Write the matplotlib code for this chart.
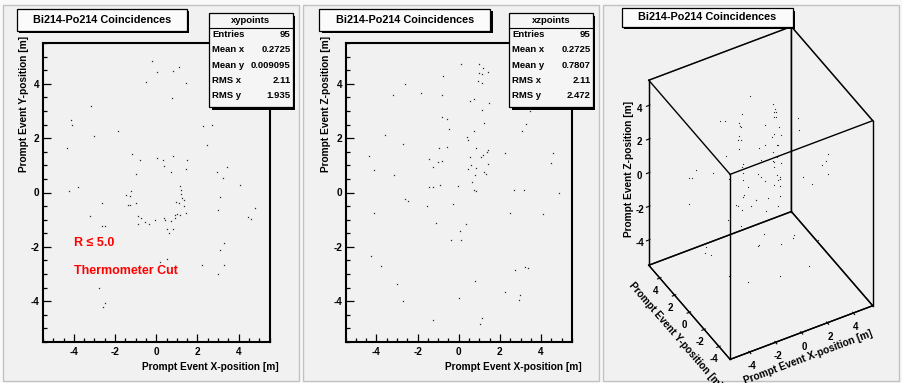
import itertools
import numpy as np
import matplotlib
matplotlib.use("Agg")
import matplotlib.pyplot as plt
from matplotlib.patches import Rectangle
from matplotlib.ticker import MultipleLocator

# ---------------------------------------------------------------------------
# data
# ---------------------------------------------------------------------------

xy_x = [-0.19, 0.03, 0.81, 1.10, -0.52, 1.46, 0.76, -3.19, -4.14, -4.09,
        -1.84, -3.01, 2.25, 2.70, -4.35, 2.48, -1.16, -0.77, 0.03, 0.35,
        0.81, 1.48, 0.40, 1.43, 0.71, -0.98, 3.44, 2.96, 3.25, 4.06,
        1.13, 1.19, -3.78, -4.22, -1.22, -1.48, -1.29, 1.22, 1.27, 1.35,
        3.11, -2.64, -0.98, -1.39, -1.26, 0.97, 1.10, 1.35, 3.00, 4.80,
        -3.22, -0.88, -0.74, -0.88, -0.53, -0.34, -0.05, 0.40, 0.43, 0.71,
        0.93, 0.90, 1.00, 1.13, 1.45, 4.44, 4.60, -2.64, -2.51, 0.52,
        0.81, 0.64, 3.30, 3.11, 0.16, 0.52, 2.24, 3.29, 3.01, -2.77,
        -2.48, -2.59]
xy_y = [4.84, 4.44, 4.46, 4.61, 4.06, 4.04, 3.49, 3.20, 2.66, 2.49,
        2.26, 2.08, 2.45, 2.48, 1.64, 1.74, 1.41, 1.21, 1.26, 1.21,
        1.36, 1.19, 0.96, 0.86, 0.74, 0.69, 0.93, 0.77, 0.53, 0.27,
        0.25, 0.10, 0.20, 0.06, 0.06, -0.10, -0.13, -0.07, -0.19, -0.27,
        -0.17, -0.37, -0.39, -0.47, -0.47, -0.35, -0.39, -0.51, -0.65, -0.56,
        -0.87, -0.88, -0.92, -1.15, -1.08, -1.15, -1.03, -0.93, -1.03, -1.04,
        -0.83, -0.93, -0.78, -0.83, -0.76, -0.90, -0.98, -1.22, -1.22, -1.35,
        -1.35, -1.49, -1.86, -2.11, -2.55, -2.45, -2.65, -2.67, -3.00, -3.50,
        -4.08, -4.23]

xz_x = [0.10, 0.97, 1.18, 1.44, 0.98, 1.15, -0.76, 0.92, 1.15, -2.61,
        -3.21, -1.84, -0.82, 0.73, 0.53, 1.47, 1.15, 3.44, -0.82, -0.56,
        1.21, 3.26, -0.47, 0.73, 3.05, -3.60, 0.40, 0.47, -2.73, -0.95,
        -0.56, 0.84, 1.40, 1.37, 2.27, 4.60, -4.37, 1.06, 0.53, 1.16,
        -1.45, -1.00, -0.79, 4.50, 0.60, 1.44, -1.27, 0.44, 0.84, -4.11,
        1.21, 1.34, 0.79, -3.15, 0.65, -0.90, -1.44, -1.24, -0.05, 0.73,
        0.85, 2.69, 3.15, 4.85, -2.60, -2.47, -1.52, -0.27, -4.11, 2.47,
        4.08, -1.11, 0.34, 0.05, -0.37, 0.11, -4.27, -3.76, 2.71, 3.21,
        3.34, 0.79, -3.00, 2.24, 2.98, 2.95, 0.00, -2.69, -1.27, 1.11,
        1.02]
xz_z = [4.72, 4.73, 4.57, 4.44, 4.41, 4.35, 4.30, 4.09, 4.04, 4.01,
        3.58, 3.65, 3.57, 3.43, 3.36, 3.31, 3.05, 3.01, 2.78, 2.70,
        2.55, 2.51, 2.34, 2.25, 2.28, 2.11, 2.06, 1.94, 1.78, 1.65,
        1.67, 1.62, 1.57, 1.50, 1.45, 1.46, 1.34, 1.32, 1.30, 1.37,
        1.23, 1.13, 1.15, 1.08, 1.00, 1.04, 0.94, 0.85, 0.89, 0.81,
        0.74, 0.67, 0.66, 0.64, 0.40, 0.27, 0.20, 0.20, 0.25, 0.11,
        0.07, 0.11, 0.11, -0.02, -0.24, -0.32, -0.51, -0.43, -0.76, -0.76,
        -0.80, -1.13, -1.16, -1.43, -1.75, -1.74, -2.34, -2.71, -2.85, -2.74,
        -2.79, -3.26, -3.38, -3.65, -3.77, -3.94, -3.88, -3.99, -4.69, -4.61,
        -4.84]

title = "Bi214-Po214 Coincidences"
stats_names = ["Entries", "Mean x", "Mean y", "RMS x", "RMS y"]
stats_xy = ["95", "0.2725", "0.009095", "2.11", "1.935"]
stats_xz = ["95", "0.2725", "0.7807", "2.11", "2.472"]
ticks = [-4, -2, 0, 2, 4]
lim = (-5.5, 5.5)

# ---------------------------------------------------------------------------
# helpers (pixel coords, origin top-left)
# ---------------------------------------------------------------------------

W, H = 902, 383
plt.rcParams["font.family"] = ["Liberation Sans", "DejaVu Sans"]
plt.rcParams["font.weight"] = "bold"
plt.rcParams["axes.labelweight"] = "bold"
plt.rcParams["axes.unicode_minus"] = False

fig = plt.figure(figsize=(W / 100, H / 100), dpi=100, facecolor="#f9f9f9")


def fx(px):
    return px / W


def fy(py):
    return 1 - py / H


def box(x0, y0, x1, y1, fc, shadow=2.5, z=5):
    fig.add_artist(Rectangle((fx(x0 + shadow), fy(y1 + shadow)),
                             (x1 - x0) / W, (y1 - y0) / H,
                             transform=fig.transFigure, fc="black",
                             ec="none", zorder=z))
    fig.add_artist(Rectangle((fx(x0), fy(y1)), (x1 - x0) / W, (y1 - y0) / H,
                             transform=fig.transFigure, fc=fc, ec="black",
                             lw=0.9, zorder=z + 0.1))


def title_box(x0, y0, x1, y1):
    box(x0, y0, x1, y1, "#fbfbfb")
    fig.text(fx((x0 + x1) / 2), fy((y0 + y1) / 2), title, ha="center",
             va="center", fontsize=7.8, zorder=6)


def stats_box(x0, name, values):
    x1, y0, y1 = x0 + 83.5, 13.3, 107.3
    box(x0, y0, x1, y1, "#f5f5f5")
    fig.text(fx((x0 + x1) / 2), fy(20.7), name, ha="center", va="center",
             fontsize=6.8, zorder=6)
    fig.add_artist(plt.Line2D([fx(x0), fx(x1)], [fy(28), fy(28)],
                              transform=fig.transFigure, color="black",
                              lw=0.8, zorder=6))
    for i, (lab, val) in enumerate(zip(stats_names, values)):
        yy = fy(34.7 + i * 15.25)
        fig.text(fx(x0 + 3), yy, lab, ha="left", va="center",
                 fontsize=6.8, zorder=6)
        fig.text(fx(x1 - 2), yy, val, ha="right", va="center",
                 fontsize=6.8, zorder=6)


# pads
for px0 in (3, 303, 603):
    fig.add_artist(Rectangle((fx(px0), fy(381)), 296 / W, 376 / H,
                             transform=fig.transFigure, fc="#f1f1f1",
                             ec="#c2c2c2", lw=1.0, zorder=-1))


def scatter_panel(left_px, xs, ys, ylabel):
    ax = fig.add_axes([fx(left_px), fy(342), 226.5 / W, 299 / H])
    ax.set_facecolor("none")
    ax.plot(xs, ys, ls="none", marker="s", ms=0.9, mew=0, color="#2a2a2a")
    ax.set_xlim(lim)
    ax.set_ylim(lim)
    for a in (ax.xaxis, ax.yaxis):
        a.set_major_locator(MultipleLocator(2))
        a.set_minor_locator(MultipleLocator(0.5))
    ax.tick_params(which="both", direction="in", top=False, right=False,
                   labelsize=7.2, width=0.9)
    ax.tick_params(which="major", length=5.8)
    ax.tick_params(which="minor", length=2.9)
    ax.tick_params(axis="x", pad=3.5)
    ax.tick_params(axis="y", pad=2.5)
    for s in ax.spines.values():
        s.set_linewidth(1.5)
    ax.text(1.041, -0.083, "Prompt Event X-position [m]",
            transform=ax.transAxes, ha="right", va="center", fontsize=7.3)
    ax.text(-0.084, 1.023, ylabel, transform=ax.transAxes, rotation=90,
            ha="center", va="top", fontsize=7.3)
    return ax


ax1 = scatter_panel(43, xy_x, xy_y, "Prompt Event Y-position [m]")
ax1.text(0.137, 0.332, "R \u2264 5.0", transform=ax1.transAxes, color="red",
         fontsize=9, ha="left", va="center")
ax1.text(0.137, 0.238, "Thermometer Cut", transform=ax1.transAxes,
         color="red", fontsize=9, ha="left", va="center")

ax2 = scatter_panel(345.5, xz_x, xz_z, "Prompt Event Z-position [m]")

title_box(16.7, 9, 187, 30.7)
title_box(319.3, 9, 490, 30.7)
title_box(621.7, 8.3, 792.7, 26.5)
stats_box(209, "xypoints", stats_xy)
stats_box(509.3, "xzpoints", stats_xz)

# ---------------------------------------------------------------------------
# 3D panel: y of each xz event taken from the xy event with the nearest x
# ---------------------------------------------------------------------------

xy_xa, xy_ya = np.array(xy_x), np.array(xy_y)
x3 = np.array(xz_x)
z3 = np.array(xz_z)
y3 = xy_ya[np.abs(xy_xa[None, :] - x3[:, None]).argmin(axis=1)]

L = 328.6
ax3 = fig.add_axes([fx(592), fy(361.7), L / W, L / H], projection="3d",
                   proj_type="ortho")
ax3.view_init(elev=41.3, azim=-119.7)
ax3.set_box_aspect((1, 1, 1.5), zoom=1.0)
ax3.set_facecolor("none")
ax3.grid(False)
for a in (ax3.xaxis, ax3.yaxis, ax3.zaxis):
    a.pane.fill = False
    a.pane.set_edgecolor((0, 0, 0, 0))
    a.line.set_color("black")
    a.line.set_linewidth(0.8)

for c0, c1 in itertools.combinations(itertools.product(lim, lim, lim), 2):
    if sum(p != q for p, q in zip(c0, c1)) == 1:
        ax3.plot(*zip(c0, c1), color="black", lw=1.0, clip_on=False)

ax3.plot(x3, y3, z3, ls="none", marker="s", ms=0.8, mew=0, color="#2a2a2a",
         clip_on=False)
ax3.set_xlim(lim)
ax3.set_ylim(lim)
ax3.set_zlim(lim)
ax3.set_xticks(ticks)
ax3.set_yticks(ticks)
ax3.set_zticks(ticks)
ax3.tick_params(axis="x", labelsize=7, pad=-4)
ax3.tick_params(axis="y", labelsize=7, pad=-4)
ax3.tick_params(axis="z", labelsize=7, pad=-3)
ax3.set_xlabel("Prompt Event X-position [m]", fontsize=7.3, labelpad=-10)
ax3.set_ylabel("Prompt Event Y-position [m]", fontsize=7.3, labelpad=-9)
ax3.set_zlabel("Prompt Event Z-position [m]", fontsize=7.3, labelpad=-10)

fig.savefig("out.png", dpi=100, facecolor=fig.get_facecolor())
